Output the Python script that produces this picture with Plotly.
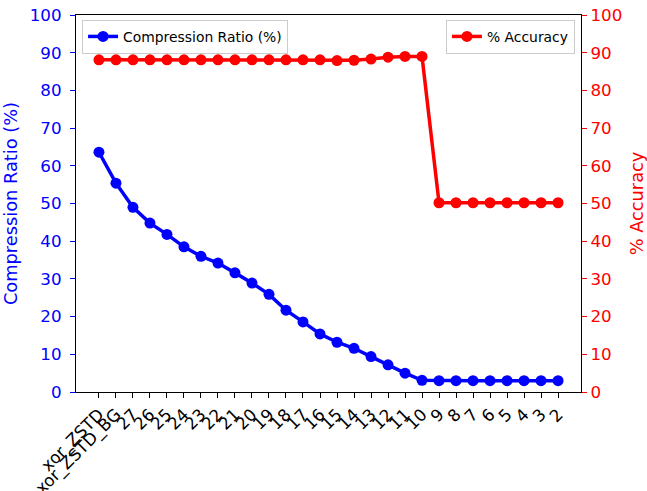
import plotly.graph_objects as go

categories = ["xor_ZSTD", "xor_ZSTD_BG", "27", "26", "25", "24", "23", "22", "21", "20",
              "19", "18", "17", "16", "15", "14", "13", "12", "11", "10",
              "9", "8", "7", "6", "5", "4", "3", "2"]
compression_ratio = [63.6, 55.4, 49.0, 44.8, 41.8, 38.5, 36.0, 34.2, 31.6, 28.9,
                     25.9, 21.7, 18.6, 15.4, 13.2, 11.6, 9.4, 7.2, 5.0, 3.1,
                     3.0, 3.0, 3.0, 3.0, 3.0, 3.0, 3.0, 3.0]
accuracy = [88.1, 88.1, 88.1, 88.1, 88.1, 88.1, 88.1, 88.1, 88.1, 88.1,
            88.1, 88.1, 88.1, 88.1, 87.9, 88.0, 88.3, 88.8, 89.0, 89.0,
            50.2, 50.2, 50.2, 50.2, 50.2, 50.2, 50.2, 50.2]
y_ticks = [0, 10, 20, 30, 40, 50, 60, 70, 80, 90, 100]

FONT = "DejaVu Sans"
fig = go.Figure()
fig.add_trace(go.Scatter(
    x=categories, y=compression_ratio, mode="lines+markers",
    name="Compression Ratio (%)", line=dict(color="blue", width=3.5),
    marker=dict(color="blue", size=11), legend="legend", yaxis="y"))
fig.add_trace(go.Scatter(
    x=categories, y=accuracy, mode="lines+markers",
    name="% Accuracy", line=dict(color="red", width=3.5),
    marker=dict(color="red", size=11), legend="legend2", yaxis="y2"))

fig.update_layout(
    width=647, height=491,
    margin=dict(l=76, r=66, t=15, b=99),
    plot_bgcolor="white", paper_bgcolor="white",
    font=dict(family=FONT, size=16.7, color="black"),
    xaxis=dict(type="category", range=[-1.35, 28.35], tickangle=-45,
               tickmode="array", tickvals=categories, ticktext=categories,
               automargin=False, ticklabeloverflow="allow",
               showline=True, linecolor="black", linewidth=1.2, mirror=True,
               ticks="outside", ticklen=5, tickcolor="black",
               tickfont=dict(size=16.7, color="black"), showgrid=False, zeroline=False),
    yaxis=dict(range=[0, 100], tickvals=y_ticks, showgrid=False, zeroline=False,
               automargin=False, ticklabeloverflow="allow", ticklabelstandoff=5,
               showline=True, linecolor="black", linewidth=1.2,
               ticks="outside", ticklen=5, tickcolor="blue",
               tickfont=dict(size=16.7, color="blue"),
               title=dict(text="Compression Ratio (%)", font=dict(size=17.8, color="blue"), standoff=8)),
    yaxis2=dict(range=[0, 100], tickvals=y_ticks, overlaying="y", side="right",
                automargin=False, ticklabeloverflow="allow", ticklabelstandoff=0,
                showgrid=False, zeroline=False,
                showline=True, linecolor="black", linewidth=1.2,
                ticks="outside", ticklen=5, tickcolor="red",
                tickfont=dict(size=16.7, color="red"),
                title=dict(text="% Accuracy", font=dict(size=17.8, color="red"), standoff=21)),
    legend=dict(x=0.012, y=0.987, xanchor="left", yanchor="top",
                bgcolor="rgba(255,255,255,0.8)", bordercolor="#cccccc", borderwidth=1,
                font=dict(size=13.9), itemwidth=30),
    legend2=dict(x=0.988, y=0.987, xanchor="right", yanchor="top",
                 bgcolor="rgba(255,255,255,0.8)", bordercolor="#cccccc", borderwidth=1,
                 font=dict(size=13.9), itemwidth=30),
    showlegend=True,
)

fig.write_html("out.html", config={"displayModeBar": False},
               post_script="document.body.style.margin='0';")
